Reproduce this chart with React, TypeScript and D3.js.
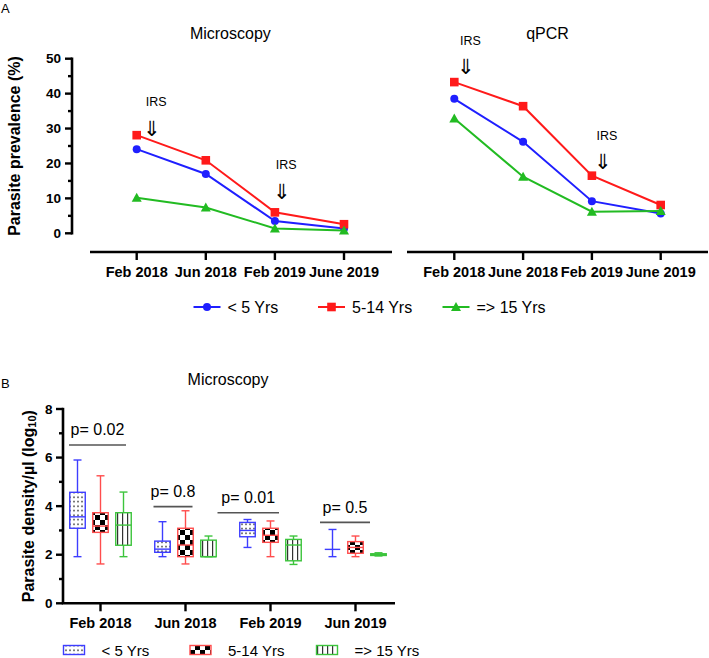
import React from 'react';
import * as d3 from 'd3';

// ---------- DATA ----------
const periodsMicro = ['Feb 2018', 'Jun 2018', 'Feb 2019', 'June 2019'];
const periodsQpcr = ['Feb 2018', 'June 2018', 'Feb 2019', 'June 2019'];
const ageGroups = ['< 5 Yrs', '5-14 Yrs', '=> 15 Yrs'];

const microUnder5 = [24.1, 17.0, 3.5, 1.4];
const micro5to14 = [28.1, 20.9, 6.0, 2.6];
const micro15plus = [10.2, 7.4, 1.4, 0.8];

const qpcrUnder5 = [38.5, 26.2, 9.2, 5.7];
const qpcr5to14 = [43.3, 36.4, 16.5, 8.1];
const qpcr15plus = [32.9, 16.2, 6.2, 6.4];

const prevalenceTicks = [0, 10, 20, 30, 40, 50];
const prevalenceMinorTicks = [5, 15, 25, 35, 45];

// IRS annotation anchors: period index and prevalence level of the arrow
const irsMicroIdx = [0, 2];
const irsMicroLevel = [30, 11.9];
const irsQpcrIdx = [0, 2];
const irsQpcrLevel = [47.6, 20.3];

const densityPeriods = ['Feb 2018', 'Jun 2018', 'Feb 2019', 'Jun 2019'];
// [min, q1, median, q3, max]
const densityUnder5 = [
  [1.92, 3.09, 3.56, 4.57, 5.9],
  [1.92, 2.1, 2.23, 2.56, 3.36],
  [2.3, 2.74, 3.0, 3.33, 3.45],
  [1.92, 2.22, 2.22, 2.22, 3.04],
];
const density5to14 = [
  [1.62, 2.92, 3.18, 3.73, 5.25],
  [1.62, 1.92, 2.4, 3.09, 3.81],
  [1.92, 2.51, 2.8, 3.09, 3.39],
  [1.92, 2.06, 2.3, 2.54, 2.77],
];
const density15plus = [
  [1.92, 2.39, 3.22, 3.73, 4.58],
  [1.92, 1.92, 1.92, 2.6, 2.77],
  [1.6, 1.75, 2.4, 2.63, 2.77],
  [1.95, 1.97, 2.0, 2.04, 2.08],
];
const pValues = ['p= 0.02', 'p= 0.8', 'p= 0.01', 'p= 0.5'];
const pLevels = [6.52, 3.98, 3.73, 3.33];
const densityTicks = [0, 2, 4, 6, 8];
const densityMinorTicks = [1, 3, 5, 7];

// ---------- STYLE / LAYOUT ----------
const BLUE = '#1f1fff';
const RED = '#ff1a1a';
const GREEN = '#22bb22';
const BOX_BLUE = '#3d3dff';
const BOX_RED = '#ff4d4d';
const BOX_GREEN = '#3cc43c';
const FONT = 'Liberation Sans, Arial, sans-serif';

// p-bar horizontal extents relative to period tick
const pBarSpan = [[-31.5, 25.5], [-32, 7], [-53, 8.5], [-35.5, 14.5]];

function Marker({ kind, x, y, color }: { kind: string; x: number; y: number; color: string }) {
  if (kind === 'circle') return <circle cx={x} cy={y} r={4} fill={color} />;
  if (kind === 'square') return <rect x={x - 4.3} y={y - 4.3} width={8.6} height={8.6} fill={color} />;
  const s = 5;
  return <path d={`M${x},${y - s}L${x + s},${y + s * 0.8}L${x - s},${y + s * 0.8}Z`} fill={color} />;
}

export default function App() {
  const W = 709;
  const H = 658;

  // Panel A scales
  const yA = d3.scaleLinear().domain([0, 50]).range([233.3, 58.7]);
  const xAL = d3.scalePoint<string>().domain(periodsMicro).range([136.7, 344]);
  const xAR = d3.scalePoint<string>().domain(periodsQpcr).range([454.3, 660.7]);
  const line = (xs: d3.ScalePoint<string>, cats: string[]) =>
    d3.line<number>().x((_, i) => xs(cats[i]) as number).y((d) => yA(d));

  const seriesMicro = [
    { vals: microUnder5, color: BLUE, kind: 'circle' },
    { vals: micro5to14, color: RED, kind: 'square' },
    { vals: micro15plus, color: GREEN, kind: 'triangle' },
  ];
  const seriesQpcr = [
    { vals: qpcrUnder5, color: BLUE, kind: 'circle' },
    { vals: qpcr5to14, color: RED, kind: 'square' },
    { vals: qpcr15plus, color: GREEN, kind: 'triangle' },
  ];

  // Panel B scales
  const yB = d3.scaleLinear().domain([0, 8]).range([603.3, 409]);
  const xB = d3.scalePoint<string>().domain(densityPeriods).range([100.5, 355.5]);
  const groupOffset = d3.scalePoint<string>().domain(ageGroups).range([-23, 23]);
  const boxW = 15.5;
  const boxSeries = [
    { vals: densityUnder5, color: BOX_BLUE, fill: 'url(#dots)' },
    { vals: density5to14, color: BOX_RED, fill: 'url(#checker)' },
    { vals: density15plus, color: BOX_GREEN, fill: 'url(#vlines)' },
  ];

  const renderPanelA = (
    xs: d3.ScalePoint<string>,
    cats: string[],
    series: typeof seriesMicro,
    irsIdx: number[],
    irsLevel: number[],
    axisX0: number,
    axisX1: number,
    title: string,
  ) => (
    <g>
      <text x={(xs(cats[0])! + xs(cats[3])!) / 2 - 10} y={33} fontSize={16}
        textAnchor="middle" dominantBaseline="central" fontFamily={FONT}>{title}</text>
      <line x1={axisX0} x2={axisX1} y1={252} y2={252} stroke="#000" strokeWidth={2.6} />
      {cats.map((c) => (
        <g key={c}>
          <line x1={xs(c)} x2={xs(c)} y1={252} y2={260} stroke="#000" strokeWidth={2.4} />
          <text x={xs(c)} y={272} fontSize={14.5} fontWeight="bold" textAnchor="middle"
            dominantBaseline="central" fontFamily={FONT}>{c}</text>
        </g>
      ))}
      {series.map((s, si) => (
        <g key={si}>
          <path d={line(xs, cats)(s.vals) || ''} fill="none" stroke={s.color} strokeWidth={2} />
          {s.vals.map((v, i) => (
            <Marker key={i} kind={s.kind} x={xs(cats[i])!} y={yA(v)} color={s.color} />
          ))}
        </g>
      ))}
      {irsIdx.map((idx, k) => {
        const ax = xs(cats[idx])! + (k === 0 ? (title === 'qPCR' ? 11.7 : 15) : (title === 'qPCR' ? 10.6 : 6.7));
        const ay = yA(irsLevel[k]);
        return (
          <g key={k}>
            <text x={ax + 4.5} y={ay - 26.5} fontSize={12.5} textAnchor="middle" dominantBaseline="central"
              fontFamily={FONT}>IRS</text>
            <text x={ax} y={ay} fontSize={21} textAnchor="middle" dominantBaseline="central"
              fontFamily="DejaVu Sans, sans-serif" fontWeight="200">⇓</text>
          </g>
        );
      })}
    </g>
  );

  return (
    <svg width={W} height={H} style={{ position: 'absolute', left: 0, top: 0, background: '#fff' }}
      fontFamily={FONT}>
      <defs>
        <pattern id="dots" patternUnits="userSpaceOnUse" width={4} height={4.5}>
          <rect width={4} height={4.5} fill="#fff" />
          <rect x={1.3} y={1.5} width={1.4} height={1.4} fill="#111" />
        </pattern>
        <pattern id="checker" patternUnits="userSpaceOnUse" width={10} height={10}>
          <rect width={10} height={10} fill="#fff" />
          <rect x={0} y={0} width={5} height={5} fill="#000" />
          <rect x={5} y={5} width={5} height={5} fill="#000" />
        </pattern>
        <pattern id="vlines" patternUnits="userSpaceOnUse" width={5} height={5}>
          <rect width={5} height={5} fill="#fff" />
          <rect x={2} y={0} width={1.2} height={5} fill="#333" />
        </pattern>
      </defs>
      <rect width={W} height={H} fill="#fff" />

      {/* Panel A */}
      <text x={1} y={8} fontSize={13} dominantBaseline="central">A</text>
      <text transform={`translate(14,${(yA(0) + yA(50)) / 2}) rotate(-90)`} fontSize={16} fontWeight="bold"
        textAnchor="middle" dominantBaseline="central">Parasite prevalence (%)</text>
      <line x1={72} x2={72} y1={yA(0) + 1.2} y2={yA(50) - 1.2} stroke="#000" strokeWidth={2.6} />
      {prevalenceTicks.map((t) => (
        <g key={t}>
          <line x1={65} x2={72} y1={yA(t)} y2={yA(t)} stroke="#000" strokeWidth={2.4} />
          <text x={61} y={yA(t)} fontSize={13.5} fontWeight="bold" textAnchor="end"
            dominantBaseline="central">{t}</text>
        </g>
      ))}
      {prevalenceMinorTicks.map((t) => (
        <line key={t} x1={68} x2={72} y1={yA(t)} y2={yA(t)} stroke="#000" strokeWidth={2.4} />
      ))}
      {renderPanelA(xAL, periodsMicro, seriesMicro, irsMicroIdx, irsMicroLevel, 90, 392, 'Microscopy')}
      {renderPanelA(xAR, periodsQpcr, seriesQpcr, irsQpcrIdx, irsQpcrLevel, 407, 708, 'qPCR')}

      {/* Legend A */}
      {ageGroups.map((g, i) => {
        const x0 = 193.5 + i * 124.5;
        const y = 307;
        const s = seriesMicro[i];
        return (
          <g key={g}>
            <line x1={x0} x2={x0 + 27} y1={y} y2={y} stroke={s.color} strokeWidth={2} />
            <Marker kind={s.kind} x={x0 + 13.5} y={y} color={s.color} />
            <text x={x0 + 34} y={y} fontSize={16} dominantBaseline="central">{g}</text>
          </g>
        );
      })}

      {/* Panel B */}
      <text x={1} y={383} fontSize={13} dominantBaseline="central">B</text>
      <text x={228} y={379} fontSize={16} textAnchor="middle" dominantBaseline="central">Microscopy</text>
      <text transform={`translate(28,${(yB(0) + yB(8)) / 2}) rotate(-90)`} fontSize={16} fontWeight="bold"
        textAnchor="middle" dominantBaseline="central">
        Parasite density/µl (log<tspan fontSize={11} dy={4}>10</tspan><tspan dy={-4}>)</tspan>
      </text>
      <line x1={63} x2={63} y1={yB(0)} y2={yB(8) - 1.2} stroke="#000" strokeWidth={2.6} />
      <line x1={61.7} x2={395} y1={yB(0)} y2={yB(0)} stroke="#000" strokeWidth={2.6} />
      {densityTicks.map((t) => (
        <g key={t}>
          <line x1={56} x2={63} y1={yB(t)} y2={yB(t)} stroke="#000" strokeWidth={2.4} />
          <text x={52.5} y={yB(t)} fontSize={13.5} fontWeight="bold" textAnchor="end"
            dominantBaseline="central">{t}</text>
        </g>
      ))}
      {densityMinorTicks.map((t) => (
        <line key={t} x1={59} x2={63} y1={yB(t)} y2={yB(t)} stroke="#000" strokeWidth={2.4} />
      ))}
      {densityPeriods.map((p) => (
        <g key={p}>
          <line x1={xB(p)} x2={xB(p)} y1={yB(0)} y2={yB(0) + 8} stroke="#000" strokeWidth={2.4} />
          <text x={xB(p)} y={623} fontSize={14.5} fontWeight="bold" textAnchor="middle"
            dominantBaseline="central">{p}</text>
        </g>
      ))}
      {boxSeries.map((s, si) => (
        <g key={si}>
          {s.vals.map((v, pi) => {
            const cx = xB(densityPeriods[pi])! + groupOffset(ageGroups[si])!;
            const [mn, q1, md, q3, mx] = v;
            return (
              <g key={pi} stroke={s.color} strokeWidth={1.4}>
                <line x1={cx} x2={cx} y1={yB(mx)} y2={yB(q3)} />
                <line x1={cx} x2={cx} y1={yB(q1)} y2={yB(mn)} />
                <line x1={cx - 4} x2={cx + 4} y1={yB(mx)} y2={yB(mx)} />
                <line x1={cx - 4} x2={cx + 4} y1={yB(mn)} y2={yB(mn)} />
                {q3 > q1 && (
                  <rect x={cx - boxW / 2} y={yB(q3)} width={boxW} height={yB(q1) - yB(q3)} fill={s.fill} />
                )}
                <line x1={cx - boxW / 2} x2={cx + boxW / 2} y1={yB(md)} y2={yB(md)} />
              </g>
            );
          })}
        </g>
      ))}
      {pValues.map((p, i) => {
        const cx = xB(densityPeriods[i])!;
        const [a, b] = pBarSpan[i];
        const y = yB(pLevels[i]);
        return (
          <g key={p}>
            <line x1={cx + a} x2={cx + b} y1={y} y2={y} stroke="#555" strokeWidth={1.6} />
            <text x={cx + (a + b) / 2} y={y - 15} fontSize={16} textAnchor="middle"
              dominantBaseline="central">{p}</text>
          </g>
        );
      })}

      {/* Legend B */}
      {ageGroups.map((g, i) => {
        const x0 = 63.5 + i * 126.5;
        const y = 650;
        const s = boxSeries[i];
        return (
          <g key={g}>
            <rect x={x0} y={y - 4.5} width={21} height={9} fill={s.fill} stroke={s.color} strokeWidth={1.4} />
            <text x={x0 + 38} y={y} fontSize={15} dominantBaseline="central">{g}</text>
          </g>
        );
      })}
    </svg>
  );
}
